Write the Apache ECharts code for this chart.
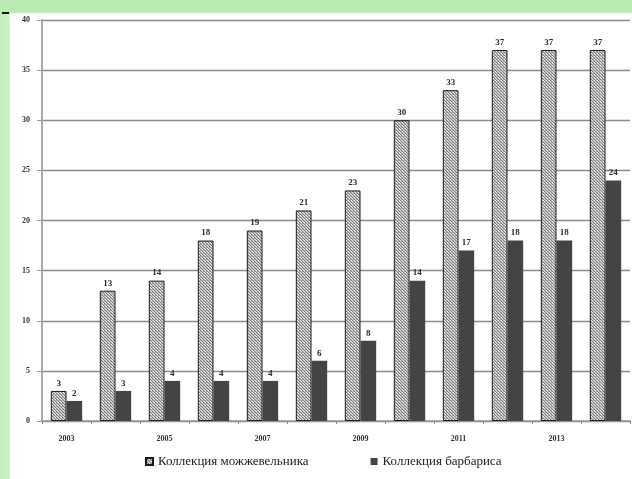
<!DOCTYPE html>
<html><head><meta charset="utf-8">
<script src="https://cdn.jsdelivr.net/npm/echarts@6/dist/echarts.min.js"></script>
<style>
html,body{margin:0;padding:0;width:632px;height:479px;overflow:hidden;background:#fff;}
#top{position:absolute;left:0;top:0;width:632px;height:13px;background:#b9ecb0;}
#left{position:absolute;left:0;top:13px;width:10px;height:466px;background:linear-gradient(to right,#bdeeb6,#cdf2c8);}
#mark{position:absolute;left:2px;top:12px;width:7px;height:2px;background:#111;}
#chart{position:absolute;left:10px;top:14px;width:622px;height:465px;}
</style></head>
<body>
<div id="top"></div><div id="left"></div><div id="mark"></div>
<div id="chart"></div>
<script>
const years = ['2003','2004','2005','2006','2007','2008','2009','2010','2011','2012','2013','2014'];
const juniper = [3,13,14,18,19,21,23,30,33,37,37,37];
const barberry = [2,3,4,4,4,6,8,14,17,18,18,24];
const yTicks = {min:0, max:40, interval:5};
const seriesNames = ['Коллекция можжевельника','Коллекция барбариса'];

function makeHatch(){
  const c = document.createElement('canvas');
  c.width = 3; c.height = 3;
  const ctx = c.getContext('2d');
  ctx.fillStyle = '#bdbdbd'; ctx.fillRect(0,0,3,3);
  ctx.fillStyle = '#7a7a7a';
  ctx.fillRect(0,0,1,1); ctx.fillRect(1,1,1,1); ctx.fillRect(2,2,1,1);
  ctx.fillStyle = '#eeeeee';
  ctx.fillRect(2,0,1,1); ctx.fillRect(0,1,1,1);
  return c;
}
const hatch = {image: makeHatch(), repeat: 'repeat'};

const chart = echarts.init(document.getElementById('chart'));
const labelStyle = {show:true, position:'top', distance:3, fontSize:9, fontWeight:'bold', color:'#2a2a3a', fontFamily:'Liberation Serif'};
chart.setOption({
  animation:false,
  backgroundColor:'#fff',
  grid:{left:32, right:2, top:6, bottom:58},
  legend:{
    bottom:6, left:130, itemWidth:7, itemHeight:7, itemGap:62,
    textStyle:{fontFamily:'Liberation Serif', fontSize:13, color:'#222'},
    data:[{name:seriesNames[0], icon:'rect'},{name:seriesNames[1], icon:'rect'}]
  },
  xAxis:{
    type:'category', data:years,
    axisLine:{lineStyle:{color:'#999', width:1.5}},
    axisTick:{show:true, alignWithLabel:false, interval:0, length:3, lineStyle:{color:'#888'}},
    axisLabel:{interval:1, margin:14, fontSize:8, fontWeight:'bold', color:'#333', fontFamily:'Liberation Serif'}
  },
  yAxis:{
    type:'value', min:yTicks.min, max:yTicks.max, interval:yTicks.interval,
    axisLine:{show:true, lineStyle:{color:'#aaa', width:2}},
    axisTick:{show:true, length:5, lineStyle:{color:'#999'}},
    axisLabel:{margin:12, fontSize:8, fontWeight:'bold', color:'#333', fontFamily:'Liberation Serif'},
    splitLine:{lineStyle:{color:'#8a8a8a', width:1.3}}
  },
  series:[
    {name:seriesNames[0], type:'bar', data:juniper, barGap:'0%', barCategoryGap:'36%',
     itemStyle:{color:hatch, borderColor:'#1a1a1a', borderWidth:1}, label:labelStyle},
    {name:seriesNames[1], type:'bar', data:barberry,
     itemStyle:{color:'#444444'}, label:labelStyle}
  ]
});
</script>
</body></html>
